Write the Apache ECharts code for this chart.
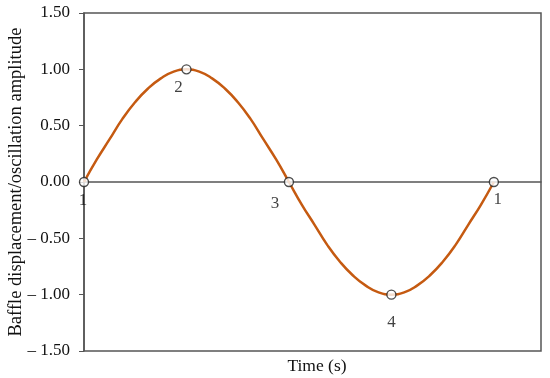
<!DOCTYPE html>
<html>
<head>
<meta charset="utf-8">
<script src="https://cdn.jsdelivr.net/npm/echarts@6/dist/echarts.min.js"></script>
<style>
  html, body { margin: 0; padding: 0; background: #fff; }
  #chart { width: 550px; height: 378px; }
</style>
</head>
<body>
<div id="chart"></div>
<script>
// curve samples (quarter-period units on x)
var curveX = [0, 0.125, 0.25, 0.375, 0.5, 0.625, 0.75, 0.875, 1, 1.125, 1.25, 1.375, 1.5, 1.625, 1.75, 1.875,
              2, 2.125, 2.25, 2.375, 2.5, 2.625, 2.75, 2.875, 3, 3.125, 3.25, 3.375, 3.5, 3.625, 3.75, 3.875, 4];
var curveY = [0, 0.20, 0.38, 0.56, 0.71, 0.83, 0.92, 0.98, 1.00, 0.98, 0.92, 0.83, 0.71, 0.56, 0.38, 0.20,
              0, -0.20, -0.38, -0.56, -0.71, -0.83, -0.92, -0.98, -1.00, -0.98, -0.92, -0.83, -0.71, -0.56, -0.38, -0.20, 0];
// marked stages
var stageX = [0, 1, 2, 3, 4];
var stageY = [0, 1, 0, -1, 0];
var stageNames = ['1', '2', '3', '4', '1'];
var stageOffsets = [[-1, 19], [-8, 18], [-14, 22], [0, 28], [4, 18]];

var font = 'Liberation Serif';
var ink = '#111';

var chart = echarts.init(document.getElementById('chart'));
var option = {
    animation: false,
    title: {
        text: 'Time (s)',
        left: 312,
        textAlign: 'center',
        top: 352,
        textStyle: { fontFamily: font, fontSize: 17.5, fontWeight: 'normal', color: ink }
    },
    grid: {
        left: 84, right: 9, top: 13, bottom: 27,
        outerBoundsMode: 'none',
        containLabel: false,
        show: true,
        borderColor: '#555',
        borderWidth: 1.5
    },
    xAxis: {
        type: 'value',
        min: 0,
        max: 4.46,
        axisLine: { onZero: true, lineStyle: { color: '#555', width: 1.5 } },
        axisTick: { show: false },
        axisLabel: { show: false },
        splitLine: { show: false }
    },
    yAxis: {
        type: 'value',
        min: -1.5,
        max: 1.5,
        interval: 0.5,
        name: 'Baffle displacement/oscillation amplitude',
        nameLocation: 'middle',
        nameRotate: 90,
        nameGap: 58,
        nameMoveOverlap: false,
        nameTextStyle: { fontFamily: font, fontSize: 18.5, color: ink },
        axisLine: { show: true, lineStyle: { color: '#555', width: 1.5 } },
        axisTick: { show: true, length: 5, lineStyle: { color: '#555' } },
        axisLabel: {
            fontFamily: font, fontSize: 17, color: ink, margin: 14,
            formatter: function (v) {
                return v < 0 ? '\u2013 ' + Math.abs(v).toFixed(2) : v.toFixed(2);
            }
        },
        splitLine: { show: false }
    },
    series: [
        {
            type: 'line',
            smooth: true,
            showSymbol: false,
            lineStyle: { color: '#C55A11', width: 2.5 },
            data: curveX.map(function (x, i) { return [x, curveY[i]]; }),
            z: 2
        },
        {
            type: 'scatter',
            symbol: 'circle',
            symbolSize: 9,
            itemStyle: { color: '#fff', borderColor: '#222', borderWidth: 1.4 },
            data: stageX.map(function (x, i) {
                return {
                    value: [x, stageY[i]],
                    label: {
                        show: true,
                        position: 'inside',
                        offset: stageOffsets[i],
                        formatter: stageNames[i],
                        fontFamily: font,
                        fontSize: 17,
                        color: ink
                    }
                };
            }),
            z: 3
        }
    ]
};
chart.setOption(option);
</script>
</body>
</html>
